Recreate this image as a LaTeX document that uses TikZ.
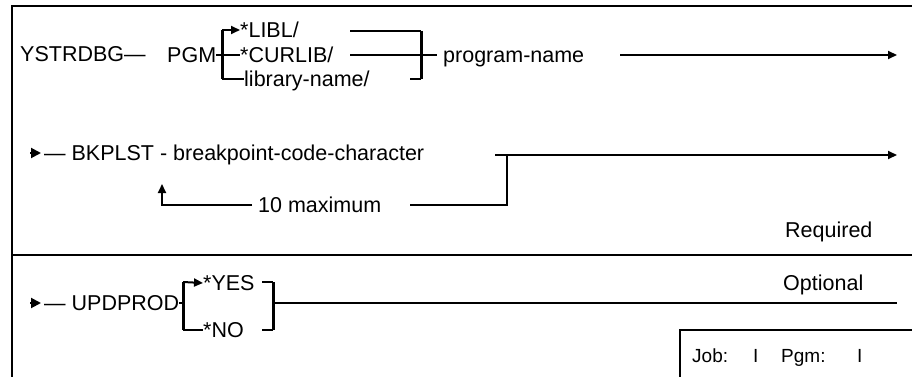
\documentclass[tikz,border=0pt]{standalone}
\usepackage{fontspec}
\setmainfont{Liberation Sans}
\usetikzlibrary{arrows.meta,positioning}
\tikzset{
  txt/.style={anchor=west, inner sep=0pt, text height=15pt, text depth=0pt, font=\fontsize{21.5}{24}\selectfont},
  rail/.style={line width=2pt},
  brk/.style={line width=3pt},
  frame/.style={line width=2.5pt},
  fwd/.style={-{Triangle[length=9pt,width=8pt]}, line width=2pt},
  lead/.style={-{Triangle[length=10pt,width=10pt]}, line width=2pt, shorten >=3pt}
}
\begin{document}
\begin{tikzpicture}[x=1pt,y=-1pt]
  \useasboundingbox (0,0) rectangle (912,377);
  % frame
  \draw[frame] (912,6) -- (12,6) -- (12,377);
  \draw[frame] (12,255) -- (912,255);

  % first line: command, library and program
  \node[txt] (cmd) at (20,54) {YSTRDBG—};
  \node[txt] (pgm) at (167,55) {PGM};
  \node[txt] (libl) at (240,30) {*LIBL/};
  \node[txt] (curlib) at (240,55) {*CURLIB/};
  \node[txt] (libname) at (244,79) {library-name/};
  \node[txt] (pname) at (443,55) {program-name};
  \coordinate (lb1t) at (222,30);
  \coordinate (lb1b) at (222,79);
  \coordinate (rb1t) at (421,31);
  \coordinate (rb1b) at (421,79);
  \coordinate (end1) at (897,55);
  \draw[rail] (pgm.east) -- (pgm.east -| lb1t);
  \draw[brk] (lb1t) -- (lb1b);
  \draw[fwd] (lb1t) -- (libl.west);
  \draw[rail] (curlib.west -| lb1t) -- (curlib.west);
  \draw[rail] (lb1b) -- (libname.west);
  \draw[rail] (350,31) -- (rb1t);
  \draw[rail] (curlib.east -| 350,0) -- (curlib.east -| rb1t);
  \draw[brk] (rb1t) -- (rb1b);
  \draw[rail] (rb1b) -- ++(-11,0);
  \draw[rail] (curlib.east -| rb1t) -- ([xshift=-6pt]pname.west);
  \draw[fwd] (pname.east -| 620,0) -- (end1);

  % second line: breakpoints
  \coordinate (in2) at (30,153);
  \node[txt] (bkp) at (44,153) {— BKPLST - breakpoint-code-character};
  \node[txt] (maxn) at (258,205) {10 maximum};
  \node[txt] (req) at (785,230) {Required};
  \coordinate (back) at (162,184);
  \coordinate (rep) at (507,155);
  \coordinate (j2) at (495,155);
  \coordinate (end2) at (897,155);
  \draw[lead] (in2) -- (bkp.west);
  \draw[fwd] ([xshift=-6pt]maxn.west) -| (back);
  \draw[rail] (maxn.east -| 410,0) -| (rep);
  \draw[fwd] (j2) -- (end2);

  % third line: optional parameter
  \coordinate (in3) at (30,303);
  \node[txt] (upd) at (44,303) {— UPDPROD};
  \node[txt] (yes) at (203,283) {*YES};
  \node[txt] (no) at (203,330) {*NO};
  \node[txt] (opt) at (783,283) {Optional};
  \coordinate (lb3t) at (183,282);
  \coordinate (lb3b) at (183,330);
  \coordinate (rb3t) at (273,282);
  \coordinate (rb3b) at (273,330);
  \coordinate (end3) at (897,303);
  \draw[lead] (in3) -- (upd.west);
  \draw[rail] (upd.east) -- (upd.east -| lb3t);
  \draw[brk] (lb3t) -- (lb3b);
  \draw[fwd] (lb3t) -- (yes.west);
  \draw[rail] (lb3b) -- (no.west);
  \draw[rail] (rb3t) -- ++(-11,0);
  \draw[rail] (rb3b) -- ++(-11,0);
  \draw[brk] (rb3t) -- (rb3b);
  \draw[rail] (upd.east -| rb3t) -- (end3);

  % status box
  \draw[frame] (680,377) -- (680,330) -- (912,330);
  \node[txt, font=\fontsize{19}{22}\selectfont] (job) at (692,355) {Job:};
  \node[txt, font=\fontsize{19}{22}\selectfont] (jobv) at (753,355) {I};
  \node[txt, font=\fontsize{19}{22}\selectfont] (pgml) at (781,355) {Pgm:};
  \node[txt, font=\fontsize{19}{22}\selectfont] (pgmv) at (857,355) {I};
\end{tikzpicture}
\end{document}
